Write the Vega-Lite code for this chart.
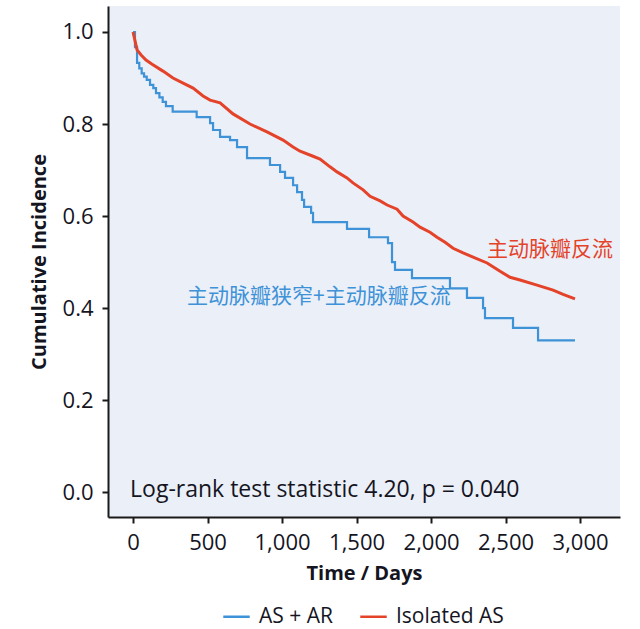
{
  "$schema": "https://vega.github.io/schema/vega-lite/v6.json",
  "autosize": {"type": "none"},
  "padding": {"left": 108, "top": 6, "right": 20, "bottom": 112},
  "width": 512,
  "height": 511,
  "background": "#ffffff",
  "config": {
    "view": {"fill": "#ebeff7", "stroke": null},
    "font": "Open Sans",
    "axis": {
      "grid": false,
      "domainColor": "#1a1a1a",
      "domainWidth": 2,
      "tickColor": "#1a1a1a",
      "tickWidth": 2,
      "tickSize": 6,
      "labelFont": "Open Sans",
      "labelFontSize": 22,
      "labelColor": "#15151f",
      "labelPadding": 9,
      "titleFont": "Open Sans",
      "titleFontSize": 20,
      "titleFontWeight": "bold",
      "titleColor": "#15151f"
    },
    "legend": {
      "labelFont": "Open Sans",
      "labelFontSize": 21,
      "labelColor": "#15151f"
    }
  },
  "datasets": {
    "curves": [
      {"group": "AS + AR", "t": 0, "s": 1.0},
      {"group": "AS + AR", "t": 13, "s": 0.967},
      {"group": "AS + AR", "t": 27, "s": 0.933},
      {"group": "AS + AR", "t": 42, "s": 0.921},
      {"group": "AS + AR", "t": 58, "s": 0.910},
      {"group": "AS + AR", "t": 74, "s": 0.903},
      {"group": "AS + AR", "t": 92, "s": 0.896},
      {"group": "AS + AR", "t": 114, "s": 0.885},
      {"group": "AS + AR", "t": 136, "s": 0.878},
      {"group": "AS + AR", "t": 154, "s": 0.867},
      {"group": "AS + AR", "t": 177, "s": 0.858},
      {"group": "AS + AR", "t": 199, "s": 0.848},
      {"group": "AS + AR", "t": 221, "s": 0.839},
      {"group": "AS + AR", "t": 266, "s": 0.827},
      {"group": "AS + AR", "t": 427, "s": 0.815},
      {"group": "AS + AR", "t": 517, "s": 0.802},
      {"group": "AS + AR", "t": 537, "s": 0.787},
      {"group": "AS + AR", "t": 584, "s": 0.772},
      {"group": "AS + AR", "t": 651, "s": 0.765},
      {"group": "AS + AR", "t": 698, "s": 0.750},
      {"group": "AS + AR", "t": 765, "s": 0.726},
      {"group": "AS + AR", "t": 919, "s": 0.711},
      {"group": "AS + AR", "t": 987, "s": 0.696},
      {"group": "AS + AR", "t": 1020, "s": 0.683},
      {"group": "AS + AR", "t": 1074, "s": 0.667},
      {"group": "AS + AR", "t": 1101, "s": 0.652},
      {"group": "AS + AR", "t": 1134, "s": 0.635},
      {"group": "AS + AR", "t": 1148, "s": 0.620},
      {"group": "AS + AR", "t": 1195, "s": 0.607},
      {"group": "AS + AR", "t": 1208, "s": 0.587},
      {"group": "AS + AR", "t": 1436, "s": 0.572},
      {"group": "AS + AR", "t": 1584, "s": 0.554},
      {"group": "AS + AR", "t": 1711, "s": 0.541},
      {"group": "AS + AR", "t": 1738, "s": 0.500},
      {"group": "AS + AR", "t": 1758, "s": 0.483},
      {"group": "AS + AR", "t": 1872, "s": 0.465},
      {"group": "AS + AR", "t": 2127, "s": 0.443},
      {"group": "AS + AR", "t": 2241, "s": 0.422},
      {"group": "AS + AR", "t": 2349, "s": 0.400},
      {"group": "AS + AR", "t": 2362, "s": 0.378},
      {"group": "AS + AR", "t": 2550, "s": 0.357},
      {"group": "AS + AR", "t": 2718, "s": 0.330},
      {"group": "AS + AR", "t": 2966, "s": 0.330},
      {"group": "Isolated AS", "t": 0, "s": 1.0},
      {"group": "Isolated AS", "t": 27, "s": 0.961},
      {"group": "Isolated AS", "t": 54, "s": 0.950},
      {"group": "Isolated AS", "t": 87, "s": 0.939},
      {"group": "Isolated AS", "t": 128, "s": 0.930},
      {"group": "Isolated AS", "t": 201, "s": 0.915},
      {"group": "Isolated AS", "t": 268, "s": 0.900},
      {"group": "Isolated AS", "t": 336, "s": 0.889},
      {"group": "Isolated AS", "t": 403, "s": 0.878},
      {"group": "Isolated AS", "t": 470, "s": 0.861},
      {"group": "Isolated AS", "t": 517, "s": 0.852},
      {"group": "Isolated AS", "t": 584, "s": 0.846},
      {"group": "Isolated AS", "t": 671, "s": 0.822},
      {"group": "Isolated AS", "t": 785, "s": 0.800},
      {"group": "Isolated AS", "t": 899, "s": 0.783},
      {"group": "Isolated AS", "t": 1007, "s": 0.765},
      {"group": "Isolated AS", "t": 1074, "s": 0.750},
      {"group": "Isolated AS", "t": 1121, "s": 0.741},
      {"group": "Isolated AS", "t": 1208, "s": 0.730},
      {"group": "Isolated AS", "t": 1255, "s": 0.724},
      {"group": "Isolated AS", "t": 1322, "s": 0.707},
      {"group": "Isolated AS", "t": 1369, "s": 0.696},
      {"group": "Isolated AS", "t": 1436, "s": 0.683},
      {"group": "Isolated AS", "t": 1476, "s": 0.672},
      {"group": "Isolated AS", "t": 1544, "s": 0.657},
      {"group": "Isolated AS", "t": 1591, "s": 0.643},
      {"group": "Isolated AS", "t": 1658, "s": 0.633},
      {"group": "Isolated AS", "t": 1705, "s": 0.624},
      {"group": "Isolated AS", "t": 1772, "s": 0.615},
      {"group": "Isolated AS", "t": 1812, "s": 0.600},
      {"group": "Isolated AS", "t": 1879, "s": 0.587},
      {"group": "Isolated AS", "t": 1926, "s": 0.576},
      {"group": "Isolated AS", "t": 1993, "s": 0.565},
      {"group": "Isolated AS", "t": 2040, "s": 0.554},
      {"group": "Isolated AS", "t": 2094, "s": 0.543},
      {"group": "Isolated AS", "t": 2148, "s": 0.530},
      {"group": "Isolated AS", "t": 2215, "s": 0.520},
      {"group": "Isolated AS", "t": 2282, "s": 0.511},
      {"group": "Isolated AS", "t": 2376, "s": 0.498},
      {"group": "Isolated AS", "t": 2463, "s": 0.480},
      {"group": "Isolated AS", "t": 2530, "s": 0.467},
      {"group": "Isolated AS", "t": 2597, "s": 0.461},
      {"group": "Isolated AS", "t": 2711, "s": 0.450},
      {"group": "Isolated AS", "t": 2819, "s": 0.439},
      {"group": "Isolated AS", "t": 2886, "s": 0.430},
      {"group": "Isolated AS", "t": 2966, "s": 0.420}
    ],
    "labels": [
      {"group": "Isolated AS", "t": 2376, "s": 0.526, "label": "主动脉瓣反流"},
      {"group": "AS + AR", "t": 362, "s": 0.424, "label": "主动脉瓣狭窄+主动脉瓣反流"}
    ],
    "stat": [
      {"t": -20, "s": 0.004, "label": "Log-rank test statistic 4.20, p = 0.040"}
    ]
  },
  "encoding": {
    "x": {
      "field": "t",
      "type": "quantitative",
      "scale": {"domain": [-168, 3268], "nice": false, "zero": false},
      "axis": {"values": [0, 500, 1000, 1500, 2000, 2500, 3000], "format": ",d", "title": "Time / Days", "titlePadding": 10}
    },
    "y": {
      "field": "s",
      "type": "quantitative",
      "scale": {"domain": [-0.054, 1.0565], "nice": false, "zero": false},
      "axis": {"values": [0, 0.2, 0.4, 0.6, 0.8, 1.0], "format": ".1f", "title": "Cumulative Incidence", "titlePadding": 13}
    }
  },
  "layer": [
    {
      "data": {"name": "curves"},
      "transform": [{"filter": "datum.group === 'AS + AR'"}],
      "mark": {"type": "line", "interpolate": "step-after", "strokeWidth": 2.2},
      "encoding": {
        "color": {
          "field": "group",
          "type": "nominal",
          "scale": {"domain": ["AS + AR", "Isolated AS"], "range": ["#3d92d8", "#e4432a"]},
          "legend": {
            "title": null,
            "orient": "none",
            "direction": "horizontal",
            "legendX": 114,
            "legendY": 596,
            "symbolType": "stroke",
            "symbolSize": 700,
            "symbolStrokeWidth": 2.5,
            "labelOffset": 8,
            "columnPadding": 22,
            "padding": 0
          }
        }
      }
    },
    {
      "data": {"name": "curves"},
      "transform": [{"filter": "datum.group === 'Isolated AS'"}],
      "mark": {"type": "line", "interpolate": "linear", "strokeWidth": 3},
      "encoding": {
        "color": {"field": "group", "type": "nominal"}
      }
    },
    {
      "data": {"name": "labels"},
      "mark": {"type": "text", "align": "left", "baseline": "middle", "font": "Noto Sans CJK SC", "fontSize": 21},
      "encoding": {
        "text": {"field": "label"},
        "color": {"field": "group", "type": "nominal", "legend": null}
      }
    },
    {
      "data": {"name": "stat"},
      "mark": {"type": "text", "align": "left", "baseline": "middle", "font": "Open Sans", "fontSize": 23, "color": "#15151f"},
      "encoding": {
        "text": {"field": "label"}
      }
    }
  ]
}
